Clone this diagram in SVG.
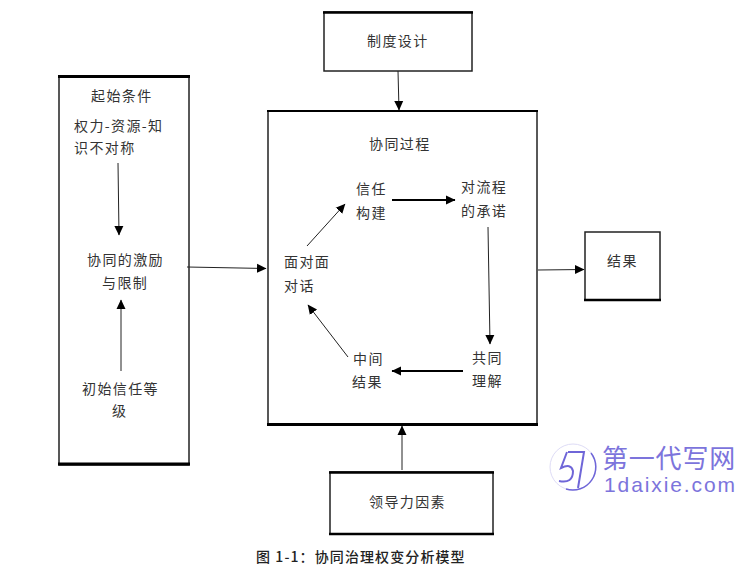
<svg xmlns="http://www.w3.org/2000/svg" width="751" height="569" viewBox="0 0 751 569">
<style>
text{font-family:"Noto Sans CJK SC","Liberation Sans",sans-serif;font-size:14px;fill:#333;letter-spacing:1.4px}
.box{fill:#fff;stroke:#222;stroke-width:1.5}
.edge{stroke:#000;stroke-linecap:butt}
.thin{fill:none;stroke:#222;stroke-width:1}
.bold{fill:none;stroke:#000;stroke-width:2}
.wm{fill:#7c74dc;letter-spacing:0}
</style>
<defs>
<marker id="a" markerUnits="userSpaceOnUse" markerWidth="11" markerHeight="11" refX="9" refY="5" orient="auto"><path d="M0 0.500L9.500 5L0 9.500Z" fill="#000"/></marker>
</defs>
<rect width="751" height="569" fill="#fff"/>
<g id="start-conditions">
<rect class="box" x="59" y="76" width="130" height="389"/>
<path class="edge" stroke-width="3" d="M58 76.500H190M58 464H190"/>
<text x="91" y="101">起始条件</text>
<text x="74" y="131">权力-资源-知</text>
<text x="74" y="153">识不对称</text>
<text x="87" y="265">协同的激励</text>
<text x="102" y="288">与限制</text>
<text x="82" y="394">初始信任等</text>
<text x="112" y="416">级</text>
</g>
<g id="process">
<rect class="box" x="268" y="111" width="269" height="314"/>
<path class="edge" stroke-width="2" d="M267 111H538"/>
<path class="edge" stroke-width="3" d="M267 424.500H538"/>
<text x="369" y="149">协同过程</text>
<text x="356" y="194">信任</text>
<text x="356" y="218">构建</text>
<text x="461" y="192">对流程</text>
<text x="461" y="216">的承诺</text>
<text x="284" y="267">面对面</text>
<text x="284" y="291">对话</text>
<text x="353" y="364">中间</text>
<text x="352" y="387">结果</text>
<text x="472" y="363">共同</text>
<text x="472" y="386">理解</text>
</g>
<g id="institution">
<rect class="box" x="324" y="12" width="148" height="59"/>
<path class="edge" stroke-width="2.500" d="M323 12.500H473"/>
<text x="367" y="46">制度设计</text>
</g>
<g id="leadership">
<rect class="box" x="330" y="472" width="163" height="62"/>
<path class="edge" stroke-width="2.500" d="M329 472.500H494M329 534H494"/>
<text x="369" y="507">领导力因素</text>
</g>
<g id="outcome">
<rect class="box" x="585" y="232" width="75" height="68"/>
<path class="edge" stroke-width="2.500" d="M584 300H661"/>
<text x="607" y="266">结果</text>
</g>
<g id="connectors">
<path class="thin" d="M398 71L399 110" marker-end="url(#a)"/>
<path class="thin" d="M118 163L119 235" marker-end="url(#a)"/>
<path class="thin" d="M121 371L121 300" marker-end="url(#a)"/>
<path class="thin" d="M187 267L266 268.500" marker-end="url(#a)"/>
<path class="thin" d="M307 246L345 204" marker-end="url(#a)"/>
<path class="bold" d="M392 200L455 200" marker-end="url(#a)"/>
<path class="thin" d="M488 227L490 344" marker-end="url(#a)"/>
<path class="bold" d="M463 371L392 371" marker-end="url(#a)"/>
<path class="thin" d="M348 357L308 305" marker-end="url(#a)"/>
<path class="thin" d="M402 470L402 426" marker-end="url(#a)"/>
<path class="thin" d="M538 270L584 269.500" marker-end="url(#a)"/>
</g>
<text x="256" y="562" style="fill:#222;font-weight:500;letter-spacing:1.1px">图 1-1：协同治理权变分析模型</text>
<g id="watermark">
<circle cx="573" cy="467" r="23" fill="none" stroke="#dedcf6"/>
<path d="M591 453A23 23 0 0 1 566 489" fill="none" stroke="#6f66d8" stroke-width="1.500"/>
<path d="M567 452L561 468Q571 463 573 471Q573 484 559 481M568 452H584L578 488" fill="none" stroke="#6f66d8" stroke-width="2"/>
<text class="wm" x="602" y="468" style="font-size:26px;letter-spacing:.8px">第一代写网</text>
<text class="wm" x="604" y="492" style="font-family:'Liberation Sans',sans-serif;font-size:21px;letter-spacing:1.9px">1daixie.com</text>
</g>
</svg>
